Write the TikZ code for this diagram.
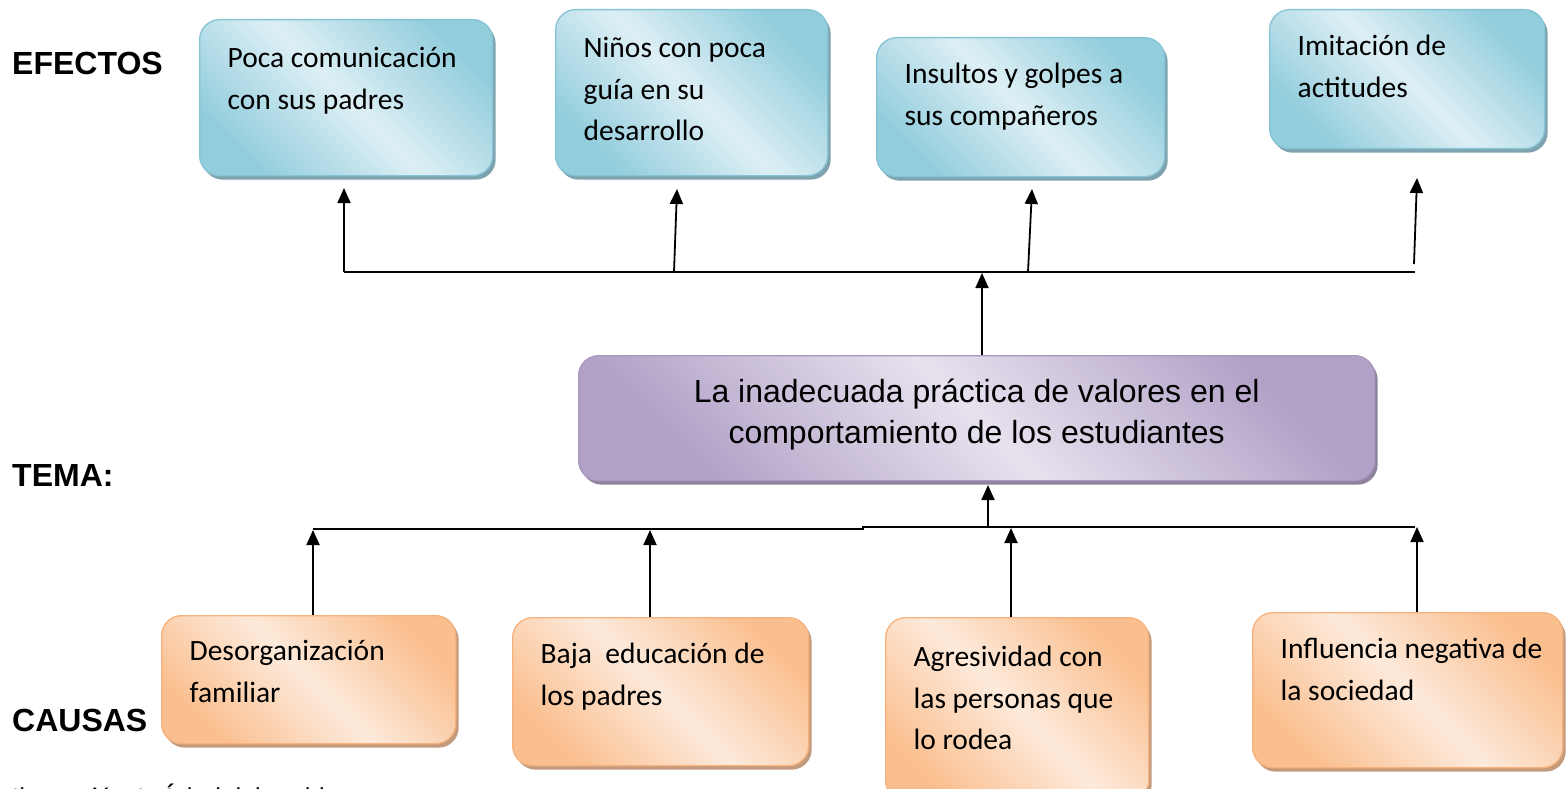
\documentclass[tikz,border=0pt]{standalone}
\usepackage{fontspec}
\setmainfont{Carlito}
\newfontfamily\arialfont{Liberation Sans}
\usetikzlibrary{arrows.meta,shadows}
\definecolor{bluedark}{HTML}{92CDDC}
\definecolor{bluelight}{HTML}{DDEFF5}
\definecolor{blueline}{HTML}{86C3D4}
\definecolor{blueshadow}{HTML}{7FA3AE}
\definecolor{orgdark}{HTML}{FABF8F}
\definecolor{orglight}{HTML}{FDEADB}
\definecolor{orgline}{HTML}{F6B27E}
\definecolor{orgshadow}{HTML}{C49A7C}
\definecolor{purdark}{HTML}{B2A1C7}
\definecolor{purlight}{HTML}{E7E2EE}
\definecolor{purline}{HTML}{A898BE}
\definecolor{purshadow}{HTML}{8F829F}
\newcommand\btext[4]{\begin{minipage}[t][#1][t]{#2}\rule{0pt}{#3}#4\end{minipage}}
\begin{document}
\begin{tikzpicture}[x=1pt,y=-1pt,
  basebox/.style={rounded corners=20pt, line width=1.3pt, inner xsep=28pt, inner ysep=0pt, anchor=north west},
  ebox/.style={basebox, draw=blueline, top color=bluedark, bottom color=bluedark, middle color=bluelight, shading angle=-45,
     general shadow={fill=blueshadow, shadow xshift=3pt, shadow yshift=-4pt}, font=\fontsize{29.5}{41.5}\selectfont},
  cbox/.style={basebox, draw=orgline, top color=orgdark, bottom color=orgdark, middle color=orglight, shading angle=-45,
     general shadow={fill=orgshadow, shadow xshift=3pt, shadow yshift=-4pt}, font=\fontsize{29.5}{41.5}\selectfont},
  tbox/.style={basebox, inner xsep=0pt, draw=purline, top color=purdark, bottom color=purdark, middle color=purlight, shading angle=-45,
     general shadow={fill=purshadow, shadow xshift=3pt, shadow yshift=-4pt}, font=\arialfont\fontsize{32}{41}\selectfont},
  lab/.style={anchor=base west, inner sep=0pt, font=\arialfont\bfseries\fontsize{32}{36}\selectfont},
  ln/.style={line width=1.8pt},
  arr/.style={line width=1.8pt, -{Triangle[length=15pt,width=13pt]}}]
\useasboundingbox (0,0) rectangle (1566,789);

% labels
\node[lab] (lefe) at (12,75) {EFECTOS};
\node[lab] (ltema) at (12,486) {TEMA:};
\node[lab] (lcaus) at (12,731) {CAUSAS};
\node[anchor=base west, inner sep=0pt, font=\fontsize{27}{30}\selectfont] (capt) at (12,806) {Ilustración 1: Árbol del problema};

% effect boxes
\node[ebox] (e1) at (199,19) {\btext{156pt}{237pt}{48pt}{\mbox{Poca comunicación}\\\mbox{con sus padres}}};
\node[ebox] (e2) at (555,9) {\btext{166pt}{216pt}{48pt}{\mbox{Niños con poca}\\\mbox{guía en su}\\\mbox{desarrollo}}};
\node[ebox] (e3) at (876,37) {\btext{139pt}{232pt}{46pt}{\mbox{Insultos y golpes a}\\\mbox{sus compañeros}}};
\node[ebox] (e4) at (1269,9) {\btext{139pt}{219pt}{46pt}{\mbox{Imitación de}\\\mbox{actitudes}}};

% theme box
\node[tbox] (tema) at (578,355) {\btext{125pt}{796pt}{47pt}{\centering\mbox{La inadecuada práctica de valores en el}\\\mbox{comportamiento de los estudiantes}}};

% cause boxes
\node[cbox] (c1) at (161,615) {\btext{128pt}{238pt}{45pt}{\mbox{Desorganización}\\\mbox{familiar}}};
\node[cbox] (c2) at (512,617) {\btext{148pt}{240pt}{46pt}{\mbox{Baja\ \ educación de}\\\mbox{los padres}}};
\node[cbox] (c3) at (885,617) {\btext{183pt}{207pt}{49pt}{\mbox{Agresividad con}\\\mbox{las personas que}\\\mbox{lo rodea}}};
\node[cbox] (c4) at (1252,612) {\btext{155pt}{254pt}{46pt}{\mbox{Influencia negativa de}\\\mbox{la sociedad}}};

% top connectors
\coordinate (tl) at (344,272);
\coordinate (t2) at (674,272);
\coordinate (t3) at (1028,272);
\coordinate (tr) at (1415,272);
\coordinate (t4) at (1414,264);
\coordinate (t0) at (982,273);
\coordinate (e1tip) at (344,188);
\coordinate (e2tip) at (677,189);
\coordinate (e3tip) at (1032,189);
\coordinate (e4tip) at (1417,178);
\draw[ln] (tl) -- (tr);
\draw[arr] (tl) -- (e1tip);
\draw[arr] (t2) -- (e2tip);
\draw[arr] (t3) -- (e3tip);
\draw[arr] (t4) -- (e4tip);
\draw[arr] (tema.north -| t0) -- (t0);

% bottom connectors
\coordinate (bl) at (313,529);
\coordinate (bm1) at (863,529);
\coordinate (bm2) at (863,527);
\coordinate (br) at (1415,527);
\coordinate (b0) at (988,527);
\coordinate (b0tip) at (988,485);
\coordinate (c1tip) at (313,530);
\coordinate (c2tip) at (650,530);
\coordinate (c3tip) at (1011,528);
\coordinate (c4tip) at (1417,527);
\draw[ln] (bl) -- (bm1) -- (bm2) -- (br);
\draw[arr] (b0) -- (b0tip);
\draw[arr] (c1.north -| c1tip) -- (c1tip);
\draw[arr] (c2.north -| c2tip) -- (c2tip);
\draw[arr] (c3.north -| c3tip) -- (c3tip);
\draw[arr] (c4.north -| c4tip) -- (c4tip);
\end{tikzpicture}
\end{document}
